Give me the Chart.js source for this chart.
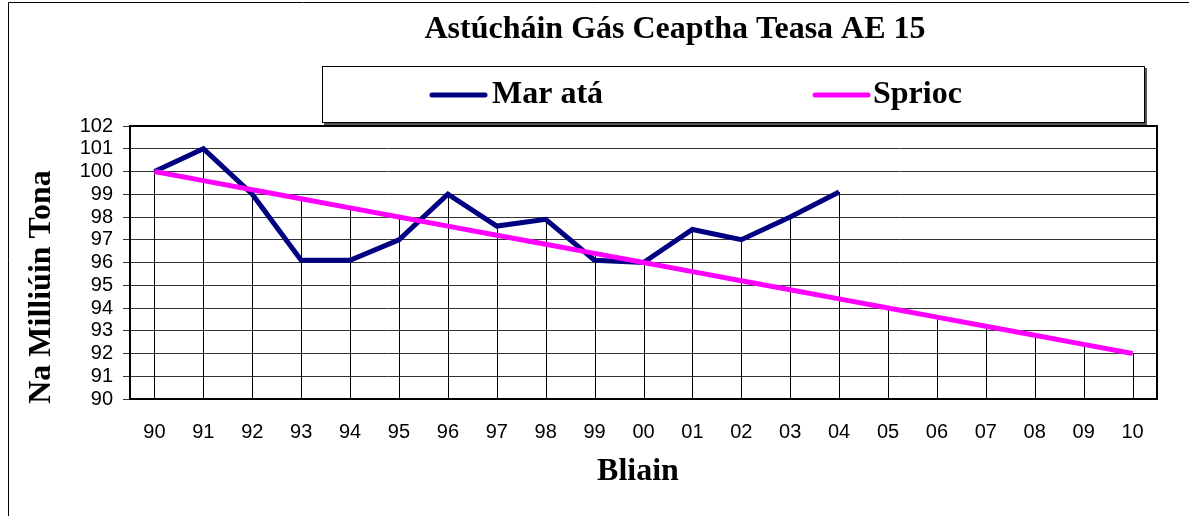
<!DOCTYPE html>
<html>
<head>
<meta charset="utf-8">
<script src="https://cdn.jsdelivr.net/npm/chart.js@4/dist/chart.umd.min.js"></script>
<style>
  html, body { margin: 0; padding: 0; background: #fff; }
  #wrap { width: 1189px; height: 516px; position: relative; }
</style>
</head>
<body>
<div id="wrap"><canvas id="ghgChart"></canvas></div>
<script>
const years = ['90','91','92','93','94','95','96','97','98','99','00','01','02','03','04','05','06','07','08','09','10'];
const actual = [100, 101, 99, 96.1, 96.1, 97, 99, 97.6, 97.9, 96.1, 96, 97.45, 97, 98, 99.1, null, null, null, null, null, null];
const target = [100, 99.6, 99.2, 98.8, 98.4, 98, 97.6, 97.2, 96.8, 96.4, 96, 95.6, 95.2, 94.8, 94.4, 94, 93.6, 93.2, 92.8, 92.4, 92];
const yTicks = [90, 102, 1];

const chartTitle = 'Astúcháin Gás Ceaptha Teasa AE 15';
const yTitle = 'Na Milliúin Tona';
const xTitle = 'Bliain';
const seriesNames = ['Mar atá', 'Sprioc'];
const seriesColors = ['#000080', '#ff00ff'];

const serif = '"Liberation Serif", "Times New Roman", serif';
const sans = '"Liberation Sans", Arial, sans-serif';

// frame, drop lines, plot border, titles and the boxed legend
const decorations = {
    id: 'decorations',
    beforeDraw(chart) {
        const ctx = chart.ctx;
        ctx.save();
        ctx.fillStyle = '#fff';
        ctx.fillRect(0, 0, chart.width, chart.height);
        ctx.strokeStyle = '#000';
        ctx.lineWidth = 1;
        ctx.beginPath();
        ctx.moveTo(8.5, chart.height);
        ctx.lineTo(8.5, 2.5);
        ctx.lineTo(chart.width, 2.5);
        ctx.stroke();
        ctx.restore();
    },
    beforeDatasetsDraw(chart) {
        const ctx = chart.ctx;
        const x = chart.scales.x, y = chart.scales.y;
        ctx.save();
        ctx.strokeStyle = '#000';
        ctx.lineWidth = 1;
        years.forEach((yr, i) => {
            const vals = [actual[i], target[i]].filter(v => v !== null);
            const top = Math.max(...vals);
            const px = Math.round(x.getPixelForValue(i)) + 0.5;
            ctx.beginPath();
            ctx.moveTo(px, y.getPixelForValue(top));
            ctx.lineTo(px, y.getPixelForValue(yTicks[0]));
            ctx.stroke();
        });
        ctx.restore();
    },
    afterDraw(chart) {
        const ctx = chart.ctx;
        const a = chart.chartArea;
        ctx.save();
        ctx.strokeStyle = '#000';
        ctx.lineWidth = 2;
        ctx.strokeRect(a.left, a.top, a.right - a.left, a.bottom - a.top);

        ctx.fillStyle = '#000';
        ctx.textAlign = 'center';
        ctx.textBaseline = 'middle';
        ctx.font = 'bold 32px ' + serif;
        ctx.fillText(chartTitle, 675, 30);
        ctx.fillText(xTitle, 638, 472);

        ctx.save();
        ctx.translate(42, 287);
        ctx.rotate(-Math.PI / 2);
        ctx.fillText(yTitle, 0, 0);
        ctx.restore();

        // legend box
        ctx.fillStyle = '#555';
        ctx.fillRect(324, 122, 823, 3);
        ctx.fillRect(1144, 68, 3, 57);
        ctx.fillStyle = '#fff';
        ctx.fillRect(322, 66, 822, 56);
        ctx.lineWidth = 1;
        ctx.strokeStyle = '#000';
        ctx.strokeRect(322.5, 66.5, 822, 56);

        const items = [[432, 492], [815, 873]];
        items.forEach((pos, i) => {
            ctx.strokeStyle = seriesColors[i];
            ctx.lineWidth = 5;
            ctx.lineCap = 'round';
            ctx.beginPath();
            ctx.moveTo(pos[0], 95);
            ctx.lineTo(pos[0] + 53, 95);
            ctx.stroke();
            ctx.fillStyle = '#000';
            ctx.textAlign = 'left';
            ctx.font = 'bold 32px ' + serif;
            ctx.fillText(seriesNames[i], pos[1], 95);
        });
        ctx.restore();
    }
};

new Chart(document.getElementById('ghgChart'), {
    type: 'line',
    data: {
        labels: years,
        datasets: [{
            label: seriesNames[0],
            data: actual,
            borderColor: seriesColors[0],
            borderWidth: 5,
            pointRadius: 0,
            tension: 0,
            spanGaps: false,
            order: 2
        },
        {
            label: seriesNames[1],
            data: target,
            borderColor: seriesColors[1],
            borderWidth: 5,
            pointRadius: 0,
            tension: 0,
            order: 1
        }]
    },
    options: {
        responsive: true,
        maintainAspectRatio: false,
        animation: false,
        layout: { padding: { left: 8, right: 32, top: 126, bottom: 0 } },
        plugins: {
            legend: { display: false },
            title: { display: false },
            tooltip: { enabled: false }
        },
        scales: {
            x: {
                offset: true,
                grid: { display: false },
                border: { display: true, color: '#000', width: 2 },
                ticks: { color: '#000', font: { family: sans, size: 20 }, padding: 13, maxRotation: 0, autoSkip: false },
                afterFit(s) { s.height = 117; }
            },
            y: {
                min: yTicks[0],
                max: yTicks[1],
                ticks: { stepSize: yTicks[2], color: '#000', font: { family: sans, size: 20, lineHeight: 1 }, padding: 10, autoSkip: false },
                grid: { color: '#333', lineWidth: 1, tickLength: 7 },
                border: { display: true, color: '#000', width: 2 },
                afterFit(s) { s.width = 122; }
            }
        }
    },
    plugins: [decorations]
});
</script>
</body>
</html>
